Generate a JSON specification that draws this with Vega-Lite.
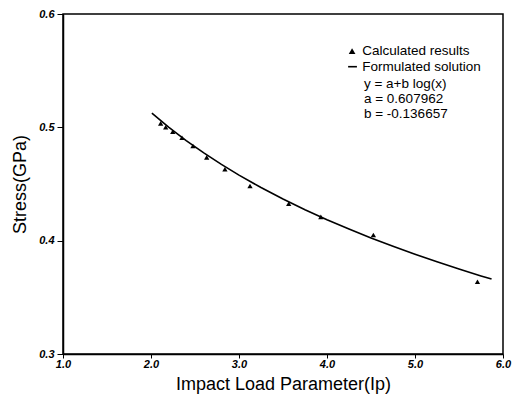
{
  "$schema": "https://vega.github.io/schema/vega-lite/v6.json",
  "width": 440,
  "height": 340,
  "autosize": {"type": "none"},
  "padding": {"left": 63, "top": 14, "right": 10, "bottom": 44},
  "background": "white",
  "config": {
    "view": {"stroke": "black", "strokeWidth": 1.5},
    "font": "Liberation Sans"
  },
  "datasets": {
    "pts": [
      {"x": 2.11, "y": 0.5035},
      {"x": 2.167, "y": 0.5},
      {"x": 2.247, "y": 0.4961},
      {"x": 2.352, "y": 0.4908},
      {"x": 2.477, "y": 0.4835},
      {"x": 2.633, "y": 0.4735},
      {"x": 2.84, "y": 0.463},
      {"x": 3.125, "y": 0.4482},
      {"x": 3.565, "y": 0.4326},
      {"x": 3.93, "y": 0.421},
      {"x": 4.527, "y": 0.405},
      {"x": 5.71, "y": 0.3637}
    ],
    "fit": [
      {"x": 2.01, "y": 0.51256},
      {"x": 2.2, "y": 0.50021},
      {"x": 2.4, "y": 0.48832},
      {"x": 2.6, "y": 0.47739},
      {"x": 2.8, "y": 0.46726},
      {"x": 3.0, "y": 0.45783},
      {"x": 3.25, "y": 0.44689},
      {"x": 3.5, "y": 0.43676},
      {"x": 3.75, "y": 0.42733},
      {"x": 4.0, "y": 0.41852},
      {"x": 4.25, "y": 0.41023},
      {"x": 4.5, "y": 0.40242},
      {"x": 4.75, "y": 0.39503},
      {"x": 5.0, "y": 0.38802},
      {"x": 5.25, "y": 0.38135},
      {"x": 5.5, "y": 0.375},
      {"x": 5.75, "y": 0.36892},
      {"x": 5.87, "y": 0.3661}
    ],
    "legtext": [
      {"x": 4.4, "y": 0.5673, "t": "Calculated results"},
      {"x": 4.4, "y": 0.5532, "t": "Formulated solution"},
      {"x": 4.42, "y": 0.5385, "t": "y = a+b log(x)"},
      {"x": 4.42, "y": 0.5252, "t": "a = 0.607962"},
      {"x": 4.42, "y": 0.5119, "t": "b = -0.136657"}
    ],
    "legsym": [{"x": 4.285, "y": 0.5673}],
    "legline": [{"x": 4.24, "x2": 4.34, "y": 0.5535}]
  },
  "layer": [
    {
      "data": {"name": "fit"},
      "mark": {"type": "line", "color": "black", "strokeWidth": 1.6},
      "encoding": {
        "x": {
          "field": "x", "type": "quantitative",
          "scale": {"domain": [1, 6], "nice": false},
          "axis": {
            "values": [1, 2, 3, 4, 5, 6], "format": ".1f", "grid": false,
            "title": "Impact Load Parameter(Ip)",
            "titleFont": "Liberation Sans", "titleFontSize": 18, "titleFontWeight": "normal", "titleColor": "black",
            "titlePadding": 6,
            "labelFont": "Liberation Sans", "labelFontSize": 11, "labelFontStyle": "italic", "labelFontWeight": "bold",
            "labelColor": "black", "labelPadding": 0, "tickSize": 4, "tickColor": "black", "domainColor": "black",
            "domainWidth": 1.5, "labelFlush": false
          }
        },
        "y": {
          "field": "y", "type": "quantitative",
          "scale": {"domain": [0.3, 0.6], "nice": false, "zero": false},
          "axis": {
            "values": [0.3, 0.4, 0.5, 0.6], "format": ".1f", "grid": false,
            "title": "Stress(GPa)",
            "titleFont": "Liberation Sans", "titleFontSize": 18, "titleFontWeight": "normal", "titleColor": "black",
            "titlePadding": 9,
            "labelFont": "Liberation Sans", "labelFontSize": 11, "labelFontStyle": "italic", "labelFontWeight": "bold",
            "labelColor": "black", "labelPadding": 3, "tickSize": 6, "tickColor": "black", "domainColor": "black",
            "domainWidth": 1.5, "labelFlush": false
          }
        }
      }
    },
    {
      "data": {"name": "pts"},
      "mark": {"type": "point", "shape": "triangle-up", "filled": true, "color": "black", "size": 28, "opacity": 1},
      "encoding": {
        "x": {"field": "x", "type": "quantitative"},
        "y": {"field": "y", "type": "quantitative"}
      }
    },
    {
      "data": {"name": "legsym"},
      "mark": {"type": "point", "shape": "triangle-up", "filled": true, "color": "black", "size": 45, "opacity": 1},
      "encoding": {
        "x": {"field": "x", "type": "quantitative"},
        "y": {"field": "y", "type": "quantitative"}
      }
    },
    {
      "data": {"name": "legline"},
      "mark": {"type": "rule", "color": "black", "strokeWidth": 1.6},
      "encoding": {
        "x": {"field": "x", "type": "quantitative"},
        "x2": {"field": "x2"},
        "y": {"field": "y", "type": "quantitative"}
      }
    },
    {
      "data": {"name": "legtext"},
      "mark": {"type": "text", "align": "left", "baseline": "middle", "font": "Liberation Sans", "fontSize": 13.5, "color": "black"},
      "encoding": {
        "x": {"field": "x", "type": "quantitative"},
        "y": {"field": "y", "type": "quantitative"},
        "text": {"field": "t"}
      }
    }
  ]
}
